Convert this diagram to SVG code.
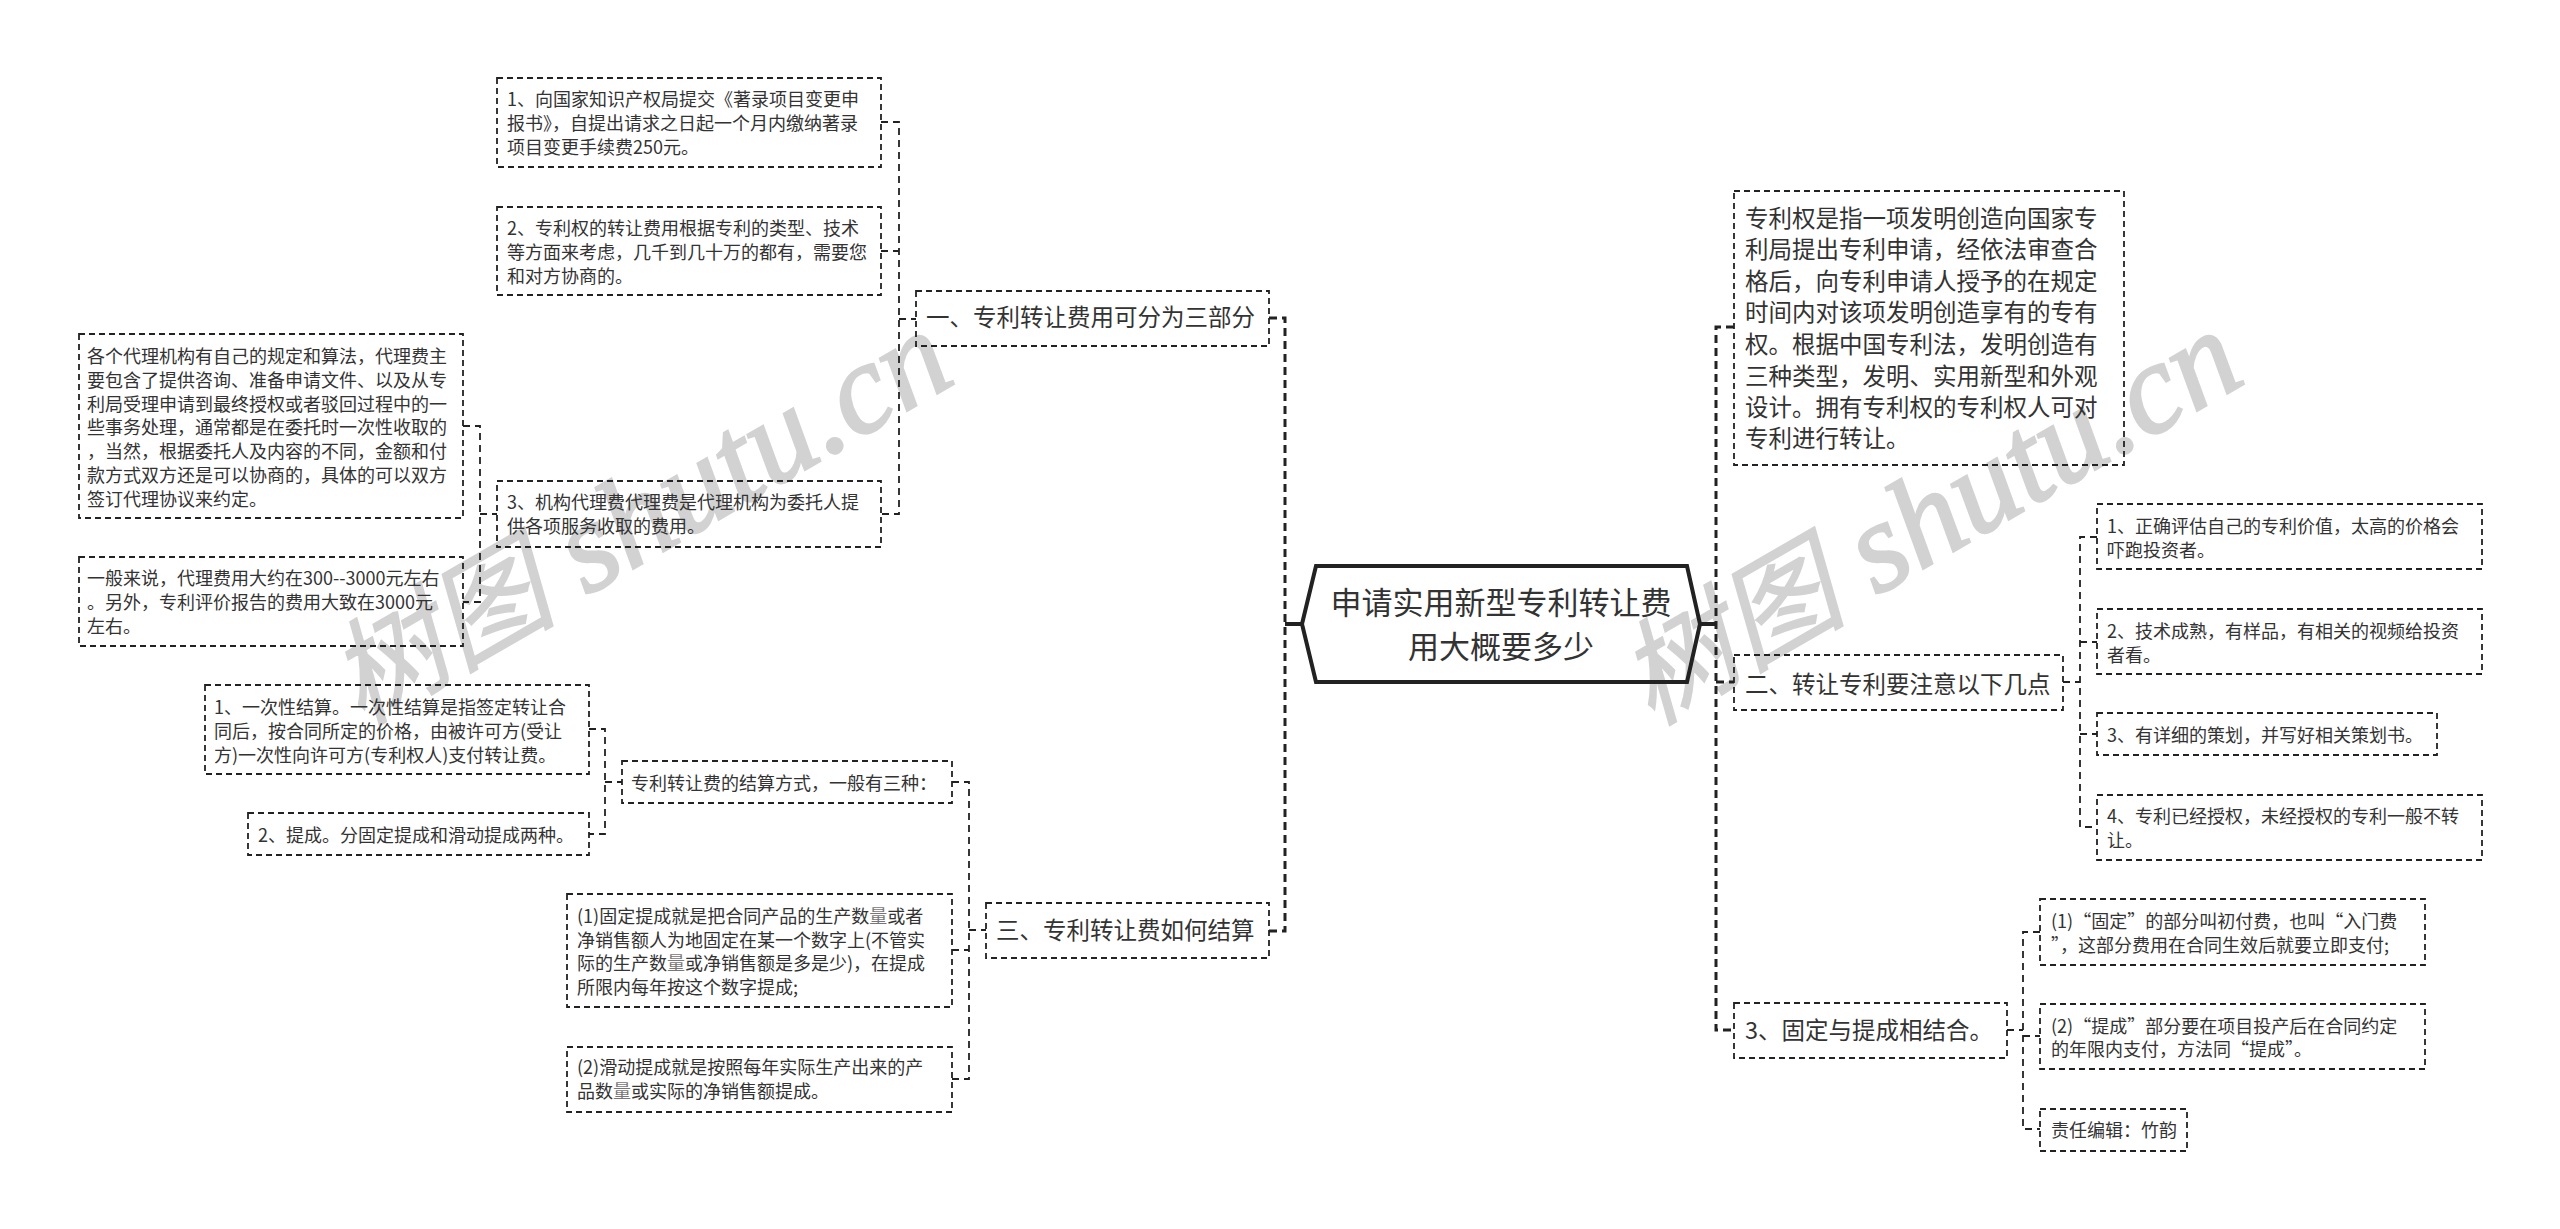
<svg xmlns="http://www.w3.org/2000/svg" width="2560" height="1229" viewBox="0 0 2560 1229">
<style>
text{font-family:"Noto Sans CJK SC","Microsoft YaHei",sans-serif;fill:#333}
.b{fill:none;stroke:#222;stroke-width:1.8;stroke-dasharray:6 4}
.s{font-size:18px}
.m{font-size:23.5px}
.c{fill:none;stroke:#222;stroke-width:1.8;stroke-dasharray:7 5}
.t{fill:none;stroke:#222;stroke-width:3;stroke-dasharray:8 5}
.h{fill:none;stroke:#222;stroke-width:4}
text.wm{font-family:"Liberation Serif",serif;font-style:italic;font-size:128px;fill:#d2d2d2;stroke:#d2d2d2;stroke-width:2.5}
tspan.wq{font-family:"Noto Sans CJK SC",sans-serif;font-style:italic;font-size:114px;stroke-width:1.5}
.g{fill:#777}
</style>
<g id="watermarks">
<text class="wm" transform="translate(361 726) rotate(-30)"><tspan class="wq">树图</tspan> shutu.cn</text>
<text class="wm" transform="translate(1651 726) rotate(-30)"><tspan class="wq">树图</tspan> shutu.cn</text>
</g>
<g id="connectors">
<path class="h" d="M1285 624H1302M1700 624H1716"/>
<path class="t" d="M1269 318H1285V931H1269"/>
<path class="t" d="M1734 327H1716V1030H1734M1716 682H1734"/>
<path class="c" d="M881 122H899V514H881M881 251H899M899 319H916"/>
<path class="c" d="M463 426H480V602H463M480 514H497"/>
<path class="c" d="M589 729H605V834H589M605 782H622"/>
<path class="c" d="M952 782H969V1079H952M952 950H969M969 930H986"/>
<path class="c" d="M2063 682H2080M2097 537H2080V827H2097M2080 642H2097M2080 734H2097"/>
<path class="c" d="M2007 1030H2023M2040 932H2023V1129H2040M2023 1036H2040"/>
</g>
<g id="root">
<polygon class="h" points="1302,624 1316,566 1687,566 1700,624 1687,682 1316,682"/>
<text x="1501" y="614" text-anchor="middle" font-size="31">申请实用新型专利转让费</text>
<text x="1501" y="658" text-anchor="middle" font-size="31">用大概要多少</text>
</g>
<g id="n1"><rect class="b" x="916" y="291" width="353" height="55"/><text class="m" x="926" y="326">一、专利转让费用可分为三部分</text></g>
<g id="n1a"><rect class="b" x="497" y="78" width="384" height="89"/><text class="s" x="507"><tspan x="507" y="106">1、向国家知识产权局提交《著录项目变更申</tspan><tspan x="507" y="130">报书》，自提出请求之日起一个月内缴纳著录</tspan><tspan x="507" y="154">项目变更手续费250元。</tspan></text></g>
<g id="n1b"><rect class="b" x="497" y="207" width="384" height="88"/><text class="s"><tspan x="507" y="235">2、专利权的转让费用根据专利的类型、技术</tspan><tspan x="507" y="259">等方面来考虑，几千到几十万的都有，需要您</tspan><tspan x="507" y="283">和对方协商的。</tspan></text></g>
<g id="n1c"><rect class="b" x="497" y="481" width="384" height="66"/><text class="s"><tspan x="507" y="509">3、机构代理费代理费是代理机构为委托人提</tspan><tspan x="507" y="533">供各项服务收取的费用。</tspan></text></g>
<g id="n1c1"><rect class="b" x="79" y="334" width="384" height="184"/><text class="s"><tspan x="87" y="363">各个代理机构有自己的规定和算法，代理费主</tspan><tspan x="87" y="387">要包含了提供咨询、准备申请文件、以及从专</tspan><tspan x="87" y="411">利局受理申请到最终授权或者驳回过程中的一</tspan><tspan x="87" y="434">些事务处理，通常都是在委托时一次性收取的</tspan><tspan x="87" y="458">，当然，根据委托人及内容的不同，金额和付</tspan><tspan x="87" y="482">款方式双方还是可以协商的，具体的可以双方</tspan><tspan x="87" y="506">签订代理协议来约定。</tspan></text></g>
<g id="n1c2"><rect class="b" x="79" y="557" width="384" height="89"/><text class="s"><tspan x="87" y="585">一般来说，代理费用大约在300--3000元左右</tspan><tspan x="87" y="609">。另外，专利评价报告的费用大致在3000元</tspan><tspan x="87" y="633">左右。</tspan></text></g>
<g id="n3"><rect class="b" x="986" y="903" width="283" height="55"/><text class="m" x="996" y="939">三、专利转让费如何结算</text></g>
<g id="n3a"><rect class="b" x="622" y="761" width="330" height="42"/><text class="s" x="631" y="790">专利转让费的结算方式，一般有三种：</text></g>
<g id="n3a1"><rect class="b" x="205" y="685" width="384" height="89"/><text class="s"><tspan x="214" y="714">1、一次性结算。一次性结算是指签定转让合</tspan><tspan x="214" y="738">同后，按合同所定的价格，由被许可方(受让</tspan><tspan x="214" y="762">方)一次性向许可方(专利权人)支付转让费。</tspan></text></g>
<g id="n3a2"><rect class="b" x="248" y="813" width="341" height="42"/><text class="s" x="258" y="842">2、提成。分固定提成和滑动提成两种。</text></g>
<g id="n3b"><rect class="b" x="567" y="894" width="385" height="113"/><text class="s"><tspan x="577" y="923">(1)固定提成就是把合同产品的生产数<tspan class="g">量</tspan>或者</tspan><tspan x="577" y="947">净销售额人为地固定在某一个数字上(不管实</tspan><tspan x="577" y="970">际的生产数<tspan class="g">量</tspan>或净销售额是多是少)，在提成</tspan><tspan x="577" y="994">所限内每年按这个数字提成;</tspan></text></g>
<g id="n3c"><rect class="b" x="567" y="1047" width="385" height="65"/><text class="s"><tspan x="577" y="1074">(2)滑动提成就是按照每年实际生产出来的产</tspan><tspan x="577" y="1098">品数<tspan class="g">量</tspan>或实际的净销售额提成。</tspan></text></g>
<g id="r1"><rect class="b" x="1734" y="191" width="390" height="274"/><text class="m"><tspan x="1745" y="227">专利权是指一项发明创造向国家专</tspan><tspan x="1745" y="258">利局提出专利申请，经依法审查合</tspan><tspan x="1745" y="290">格后，向专利申请人授予的在规定</tspan><tspan x="1745" y="321">时间内对该项发明创造享有的专有</tspan><tspan x="1745" y="353">权。根据中国专利法，发明创造有</tspan><tspan x="1745" y="385">三种类型，发明、实用新型和外观</tspan><tspan x="1745" y="416">设计。拥有专利权的专利权人可对</tspan><tspan x="1745" y="447">专利进行转让。</tspan></text></g>
<g id="r2"><rect class="b" x="1734" y="655" width="329" height="55"/><text class="m" x="1745" y="693">二、转让专利要注意以下几点</text></g>
<g id="r2a"><rect class="b" x="2097" y="504" width="385" height="65"/><text class="s"><tspan x="2107" y="533">1、正确评估自己的专利价值，太高的价格会</tspan><tspan x="2107" y="557">吓跑投资者。</tspan></text></g>
<g id="r2b"><rect class="b" x="2097" y="609" width="385" height="65"/><text class="s"><tspan x="2107" y="638">2、技术成熟，有样品，有相关的视频给投资</tspan><tspan x="2107" y="662">者看。</tspan></text></g>
<g id="r2c"><rect class="b" x="2097" y="713" width="340" height="42"/><text class="s" x="2107" y="742">3、有详细的策划，并写好相关策划书。</text></g>
<g id="r2d"><rect class="b" x="2097" y="795" width="385" height="65"/><text class="s"><tspan x="2107" y="823">4、专利已经授权，未经授权的专利一般不转</tspan><tspan x="2107" y="847">让。</tspan></text></g>
<g id="r3"><rect class="b" x="1734" y="1003" width="273" height="55"/><text class="m" x="1745" y="1039">3、固定与提成相结合。</text></g>
<g id="r3a"><rect class="b" x="2040" y="899" width="385" height="66"/><text class="s"><tspan x="2051" y="928">(1)“固定”的部分叫初付费，也叫“入门费</tspan><tspan x="2051" y="952">”，这部分费用在合同生效后就要立即支付;</tspan></text></g>
<g id="r3b"><rect class="b" x="2040" y="1004" width="385" height="65"/><text class="s"><tspan x="2051" y="1033">(2)“提成”部分要在项目投产后在合同约定</tspan><tspan x="2051" y="1056">的年限内支付，方法同“提成”。</tspan></text></g>
<g id="r3c"><rect class="b" x="2040" y="1109" width="147" height="42"/><text class="s" x="2051" y="1137">责任编辑：竹韵</text></g>
</svg>
